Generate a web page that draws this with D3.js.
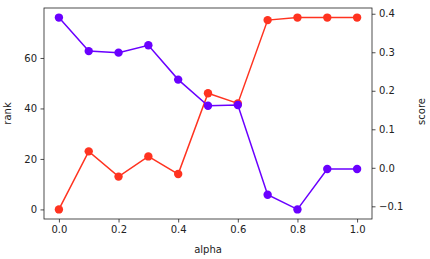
<!DOCTYPE html>
<html>
<head>
<meta charset="utf-8">
<script src="https://cdn.jsdelivr.net/npm/d3@7"></script>
<style>
  body { margin: 0; background: #fff; }
  svg text { font-family: "DejaVu Sans", sans-serif; fill: #222; }
</style>
</head>
<body>
<svg id="chart"></svg>
<script>
// data
const alphas = [0.0, 0.1, 0.2, 0.3, 0.4, 0.5, 0.6, 0.7, 0.8, 0.9, 1.0];
const rank = [0, 23, 13, 21, 14, 46, 42, 75, 76, 76, 76];
const score = [0.390, 0.303, 0.299, 0.318, 0.229, 0.161, 0.163, -0.070, -0.108, -0.003, -0.003];
const xTicks = [0.0, 0.2, 0.4, 0.6, 0.8, 1.0];
const rankTicks = [0, 20, 40, 60];
const scoreTicks = [-0.1, 0.0, 0.1, 0.2, 0.3, 0.4];

const width = 430, height = 259;
const margin = { top: 8, right: 58, bottom: 40, left: 44 };

const svg = d3.select("#chart").attr("width", width).attr("height", height);

// matplotlib-style 5% padding
function padded(vals) {
  const [lo, hi] = d3.extent(vals);
  const p = (hi - lo) * 0.05;
  return [lo - p, hi + p];
}

const x = d3.scaleLinear().domain(padded(alphas)).range([margin.left, width - margin.right]);
const yL = d3.scaleLinear().domain(padded(rank)).range([height - margin.bottom, margin.top]);
const yR = d3.scaleLinear().domain(padded(score)).range([height - margin.bottom, margin.top]);

const red = "#ff3320";
const purple = "#6a00ff";

function series(vals, y, color) {
  const line = d3.line().x((d, i) => x(alphas[i])).y(d => y(d));
  svg.append("path").datum(vals)
    .attr("d", line).attr("fill", "none")
    .attr("stroke", color).attr("stroke-width", 1.5);
  svg.append("g").selectAll("circle").data(vals).join("circle")
    .attr("cx", (d, i) => x(alphas[i])).attr("cy", d => y(d))
    .attr("r", 4.2).attr("fill", color);
}

series(rank, yL, red);
series(score, yR, purple);

// axes
const xAxis = svg.append("g")
  .attr("transform", `translate(0,${height - margin.bottom})`)
  .call(d3.axisBottom(x).tickValues(xTicks).tickFormat(d3.format(".1f")).tickSizeOuter(0).tickSize(3.5).tickPadding(3.5));
const lAxis = svg.append("g")
  .attr("transform", `translate(${margin.left},0)`)
  .call(d3.axisLeft(yL).tickValues(rankTicks).tickSizeOuter(0).tickSize(3.5).tickPadding(3.5));
const rAxis = svg.append("g")
  .attr("transform", `translate(${width - margin.right},0)`)
  .call(d3.axisRight(yR).tickValues(scoreTicks).tickFormat(d => d3.format(".1f")(d).replace("-", "\u2212")).tickSizeOuter(0).tickSize(3.5).tickPadding(3.5));

[xAxis, lAxis, rAxis].forEach(a => {
  a.select(".domain").remove();
  a.selectAll("text").attr("font-size", 10).attr("font-family", "DejaVu Sans").attr("fill", "#222");
  a.selectAll("line").attr("stroke", "#222").attr("stroke-width", 0.8);
});

// frame
svg.append("rect")
  .attr("x", margin.left).attr("y", margin.top)
  .attr("width", width - margin.left - margin.right)
  .attr("height", height - margin.top - margin.bottom)
  .attr("fill", "none").attr("stroke", "#222").attr("stroke-width", 0.8);

// labels
svg.append("text")
  .attr("x", (margin.left + width - margin.right) / 2).attr("y", 252.5)
  .attr("text-anchor", "middle").attr("font-size", 10).text("alpha");
svg.append("text")
  .attr("transform", `translate(11,${(margin.top + height - margin.bottom) / 2}) rotate(-90)`)
  .attr("text-anchor", "middle").attr("font-size", 10).text("rank");
svg.append("text")
  .attr("transform", `translate(425,${(margin.top + height - margin.bottom) / 2 - 2}) rotate(-90)`)
  .attr("text-anchor", "middle").attr("font-size", 10).text("score");
</script>
</body>
</html>
